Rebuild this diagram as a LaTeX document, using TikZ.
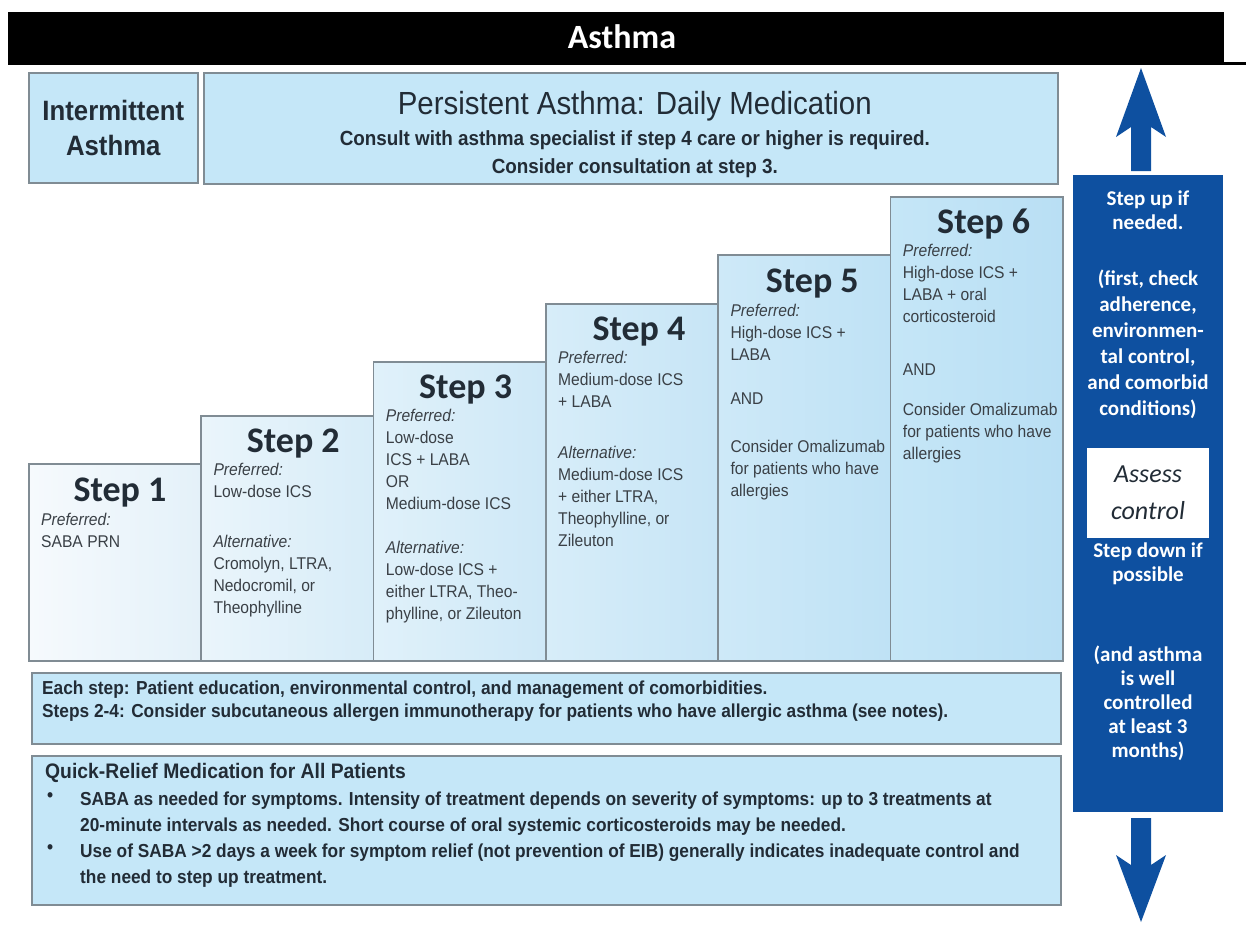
\documentclass[tikz,border=0pt]{standalone}
\usepackage{fontspec}
\setmainfont{Liberation Sans}
\newfontfamily\narrowfont[FakeStretch=0.92]{Liberation Sans}
\newfontfamily\calfont{Carlito}
\usepackage{tikz}
\usetikzlibrary{positioning,calc,shadows}

\definecolor{skyfill}{RGB}{197,231,248}
\definecolor{rimgray}{RGB}{128,140,148}
\definecolor{navy}{RGB}{14,80,160}
\definecolor{bodyink}{RGB}{58,64,70}
\definecolor{darkink}{RGB}{34,44,54}
\definecolor{stepAl}{RGB}{246,250,253}\definecolor{stepAr}{RGB}{228,241,249}
\definecolor{stepBl}{RGB}{234,245,251}\definecolor{stepBr}{RGB}{215,236,248}
\definecolor{stepCl}{RGB}{224,241,250}\definecolor{stepCr}{RGB}{206,232,247}
\definecolor{stepDl}{RGB}{215,237,249}\definecolor{stepDr}{RGB}{199,229,246}
\definecolor{stepEl}{RGB}{206,233,248}\definecolor{stepEr}{RGB}{191,226,245}
\definecolor{stepFl}{RGB}{197,230,247}\definecolor{stepFr}{RGB}{185,223,244}

\begin{document}
\begin{tikzpicture}[
  x=1pt,y=-1pt,
  panel/.style={draw=rimgray,line width=1.6pt,fill=skyfill,anchor=north west,inner sep=0pt,
    drop shadow={shadow xshift=1.2pt,shadow yshift=-1.2pt,opacity=.25}},
  stepbox/.style={panel,minimum width=172.3pt},
  steptitle/.style={anchor=base,text=darkink,font=\calfont\bfseries\fontsize{36}{36}\selectfont},
  stepbody/.style={anchor=north west,inner sep=0pt,align=left,text=bodyink,
    font=\narrowfont\fontsize{17}{22}\selectfont},
  headline/.style={anchor=base,text=darkink,font=\narrowfont\fontsize{32}{32}\selectfont},
  subline/.style={anchor=base,text=darkink,font=\narrowfont\bfseries\fontsize{20.5}{20.5}\selectfont},
  notetext/.style={anchor=north west,inner sep=0pt,align=left,text=darkink,
    font=\narrowfont\bfseries\fontsize{18.8}{23}\selectfont},
  sidetext/.style={anchor=north,inner sep=0pt,align=center,text=white,
    font=\calfont\bfseries\fontsize{21}{24}\selectfont}
]
\useasboundingbox (0,0) rectangle (1246,924);
\fill[white] (0,0) rectangle (1246,924);

% title bar
\fill[black] (8,12) rectangle (1224,62);
\fill[black] (8,62) rectangle (1246,64.5);
\node[anchor=base,text=white,font=\calfont\bfseries\fontsize{34}{34}\selectfont] (title) at (622,48) {Asthma};

% top row
\node[panel,minimum width=169pt,minimum height=110pt,align=center,text=darkink,
  font=\narrowfont\bfseries\fontsize{28}{35}\selectfont] (inter) at (28,72) {Intermittent\\Asthma};
\node[panel,minimum width=854pt,minimum height=111pt] (persist) at (203,72) {};
\node[headline] (pertitle) at ($(persist.north)+(4,42)$) {Persistent Asthma: Daily Medication};
\node[subline] (consult) at ($(persist.north)+(4,73)$) {Consult with asthma specialist if step 4 care or higher is required.};
\node[subline] (consider) at ($(persist.north)+(4,101)$) {Consider consultation at step 3.};

% staircase
\node[stepbox,minimum height=197pt,left color=stepAl,right color=stepAr] (s1) at (28,463) {};
\node[steptitle] (t1) at ($(s1.north)+(5,38)$) {Step 1};
\node[stepbody] (b1) at ($(s1.north west)+(13,50)$) {\textit{Preferred:}\\SABA PRN};

\node[stepbox,minimum height=245pt,left color=stepBl,right color=stepBr] (s2) at (200.3,415) {};
\node[steptitle] (t2) at ($(s2.north)+(6,37)$) {Step 2};
\node[stepbody] (b2) at ($(s2.north west)+(13,48)$) {\textit{Preferred:}\\Low-dose ICS\\[28pt]
  \textit{Alternative:}\\Cromolyn, LTRA,\\Nedocromil, or\\Theophylline};

\node[stepbox,minimum height=299pt,left color=stepCl,right color=stepCr] (s3) at (372.7,361) {};
\node[steptitle] (t3) at ($(s3.north)+(6,37)$) {Step 3};
\node[stepbody] (b3) at ($(s3.north west)+(13,48)$) {\textit{Preferred:}\\Low-dose\\ICS + LABA\\OR\\Medium-dose ICS\\[22pt]
  \textit{Alternative:}\\Low-dose ICS +\\either LTRA, Theo-\\phylline, or Zileuton};

\node[stepbox,minimum height=357pt,left color=stepDl,right color=stepDr] (s4) at (545,303) {};
\node[steptitle] (t4) at ($(s4.north)+(7,37)$) {Step 4};
\node[stepbody] (b4) at ($(s4.north west)+(13,48)$) {\textit{Preferred:}\\Medium-dose ICS\\+ LABA\\[29pt]
  \textit{Alternative:}\\Medium-dose ICS\\+ either LTRA,\\Theophylline, or\\Zileuton};

\node[stepbox,minimum height=406pt,left color=stepEl,right color=stepEr] (s5) at (717.3,254) {};
\node[steptitle] (t5) at ($(s5.north)+(8,38)$) {Step 5};
\node[stepbody] (b5) at ($(s5.north west)+(13,50)$) {\textit{Preferred:}\\High-dose ICS +\\LABA\\[22pt]
  AND\\[26pt]Consider Omalizumab\\for patients who have\\allergies};

\node[stepbox,minimum height=464pt,left color=stepFl,right color=stepFr] (s6) at (889.7,196) {};
\node[steptitle] (t6) at ($(s6.north)+(7,37)$) {Step 6};
\node[stepbody] (b6) at ($(s6.north west)+(13,48)$) {\textit{Preferred:}\\High-dose ICS +\\LABA + oral\\corticosteroid\\[31pt]
  AND\\[18pt]Consider Omalizumab\\for patients who have\\allergies};

% notes below
\node[panel,minimum width=1029pt,minimum height=71pt] (each) at (31,672) {};
\node[notetext] (eachtxt) at ($(each.north west)+(11,9)$) {Each step: Patient education, environmental control, and management of comorbidities.\\
  Steps 2-4: Consider subcutaneous allergen immunotherapy for patients who have allergic asthma (see notes).};

\node[panel,minimum width=1029pt,minimum height=149pt] (quick) at (31,755) {};
\node[notetext,font=\narrowfont\bfseries\fontsize{21}{21}\selectfont] (quickhead) at ($(quick.north west)+(14,8)$) {Quick-Relief Medication for All Patients};
\node[notetext,font=\narrowfont\bfseries\fontsize{18.8}{26}\selectfont] (relief1) at ($(quick.north west)+(49,37)$)
  {SABA as needed for symptoms. Intensity of treatment depends on severity of symptoms: up to 3 treatments at\\
   20-minute intervals as needed. Short course of oral systemic corticosteroids may be needed.};
\node[notetext,font=\narrowfont\bfseries\fontsize{18.8}{26}\selectfont] (relief2) at ($(quick.north west)+(49,89)$)
  {Use of SABA >2 days a week for symptom relief (not prevention of EIB) generally indicates inadequate control and\\
   the need to step up treatment.};
\node[notetext] (dot1) at ($(relief1.north west)+(-33,0)$) {\textbullet};
\node[notetext] (dot2) at ($(relief2.north west)+(-33,0)$) {\textbullet};

% step up / step down column
\node[anchor=north west,fill=navy,minimum width=150pt,minimum height=637pt,inner sep=0pt] (side) at (1073,175) {};
\node[sidetext] (stepup) at (1148,191) {Step up if\\needed.};
\node[sidetext,font=\calfont\bfseries\fontsize{21}{26}\selectfont] (checks) at (1148,270)
  {(first, check\\adherence,\\environmen-\\tal control,\\and comorbid\\conditions)};
\node[anchor=north,fill=white,minimum width=122pt,minimum height=90pt,inner sep=0pt,align=center,text=darkink,
  font=\calfont\itshape\fontsize{26}{37}\selectfont] (assess) at (1148,448) {Assess\\control};
\node[sidetext] (stepdown) at (1148,543) {Step down if\\possible};
\node[sidetext] (wellctl) at (1148,646) {(and asthma\\is well\\controlled\\at least 3\\months)};

\fill[navy] (1141,68) -- (1166,137) -- (1151,127) -- (1151,171) -- (1131,171) -- (1131,127) -- (1116,137) -- cycle;
\fill[navy] (1141,922) -- (1166,855) -- (1151,865) -- (1151,818) -- (1131,818) -- (1131,865) -- (1116,855) -- cycle;
\end{tikzpicture}
\end{document}
